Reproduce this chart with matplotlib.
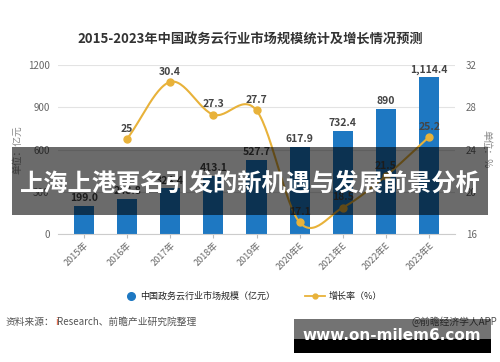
import numpy as np
import matplotlib
matplotlib.use("Agg")
import matplotlib.pyplot as plt
from matplotlib.patches import Rectangle
from matplotlib.lines import Line2D

plt.rcParams['font.family'] = ['Noto Sans CJK SC', 'DejaVu Sans']

years = ["2015年", "2016年", "2017年", "2018年", "2019年", "2020年E", "2021年E", "2022年E", "2023年E"]
market = [199.0, 248.8, 324.4, 413.1, 527.7, 617.9, 732.4, 890.0, 1114.4]
market_labels = ["199.0", "248.8", "324.4", "413.1", "527.7", "617.9", "732.4", "890", "1,114.4"]
growth = [None, 25.0, 30.4, 27.3, 27.7, 17.1, 18.5, 21.5, 25.2]
growth_labels = ["", "25", "30.4", "27.3", "27.7", "17.1", "18.5", "21.5", "25.2"]
left_ticks = [0, 300, 600, 900, 1200]
right_ticks = [16, 20, 24, 28, 32]

W, H = 500, 362
fig = plt.figure(figsize=(W / 100, H / 100), dpi=100)

def fx(px):
    return px / W

def fy(py):
    return 1 - py / H

BLUE = '#1e78c2'
GOLD = '#e8b23a'
GRAY = '#666666'

ax = fig.add_axes([fx(58), fy(234), fx(455) - fx(58), fy(65) - fy(234)])
x = np.arange(len(years))
ax.bar(x, market, width=0.47, color=BLUE, zorder=2)
ax.set_xlim(-0.6, len(years) - 0.4)
ax.set_ylim(0, 1200)
ax.set_yticks(left_ticks)
ax.set_yticklabels([str(t) for t in left_ticks], fontsize=7, color=GRAY)
ax.set_xticks(x)
ax.set_xticklabels(years, rotation=45, ha='right', rotation_mode='anchor', fontsize=6.5, color=GRAY)
ax.tick_params(axis='x', length=3, color='#bbbbbb', pad=2)
ax.tick_params(axis='y', length=0, pad=6)
for s in ['top', 'right', 'left']:
    ax.spines[s].set_visible(False)
ax.spines['bottom'].set_color('#cccccc')
ax.grid(axis='y', color='#e3e3e3', linewidth=0.8, zorder=0)
ax.set_axisbelow(True)
for xi, v, lab in zip(x, market, market_labels):
    ax.text(xi, v + 18, lab, ha='center', va='bottom', fontsize=7.5, fontweight='bold', color='#444444', zorder=5)
ax.set_ylabel("单位：亿元", fontsize=7, color='#888888', labelpad=4)

ax2 = ax.twinx()
ax2.set_ylim(16, 32)
ax2.set_yticks(right_ticks)
ax2.set_yticklabels([str(t) for t in right_ticks], fontsize=7, color=GRAY)
ax2.tick_params(axis='y', length=0, pad=8)
for s in ['top', 'right', 'left', 'bottom']:
    ax2.spines[s].set_visible(False)
ax2.set_ylabel("单位：%", fontsize=7, color='#888888', rotation=270, labelpad=10)

gx = np.array([xi for xi, g in zip(x, growth) if g is not None], dtype=float)
gy = np.array([g for g in growth if g is not None], dtype=float)
# smooth drawing (Catmull-Rom) through the data points
n = len(gx)
tang = np.zeros(n)
for i in range(n):
    if i == 0:
        tang[i] = gy[1] - gy[0]
    elif i == n - 1:
        tang[i] = gy[-1] - gy[-2]
    else:
        tang[i] = (gy[i + 1] - gy[i - 1]) / 2
sx, sy = [], []
for i in range(n - 1):
    t = np.linspace(0, 1, 30)
    h00 = 2 * t**3 - 3 * t**2 + 1
    h10 = t**3 - 2 * t**2 + t
    h01 = -2 * t**3 + 3 * t**2
    h11 = t**3 - t**2
    sx.extend(gx[i] + t * (gx[i + 1] - gx[i]))
    sy.extend(h00 * gy[i] + h10 * tang[i] + h01 * gy[i + 1] + h11 * tang[i + 1])
ax2.plot(sx, sy, color=GOLD, linewidth=1.5, zorder=3)
ax2.plot(gx, gy, 'o', color=GOLD, markersize=5, zorder=4)
for xi, g, lab in zip(x, growth, growth_labels):
    if g is None:
        continue
    ax2.text(xi, g + 0.5, lab, ha='center', va='bottom', fontsize=7.5, fontweight='bold', color='#444444', zorder=5)

# title
fig.text(0.5, fy(40), "2015-2023年中国政务云行业市场规模统计及增长情况预测", ha='center', va='center',
         fontsize=9.5, fontweight='bold', color='#333333')

# legend
fig.add_artist(Line2D([fx(131)], [fy(296)], marker='o', color=BLUE, markersize=5.5, linestyle='None', transform=fig.transFigure))
fig.text(fx(140), fy(296), "中国政务云行业市场规模（亿元）", ha='left', va='center', fontsize=6.5, color='#222222')
fig.add_artist(Line2D([fx(305), fx(325)], [fy(296), fy(296)], color=GOLD, linewidth=1.3, transform=fig.transFigure))
fig.add_artist(Line2D([fx(315)], [fy(296)], marker='o', color=GOLD, markersize=3.5, linestyle='None', transform=fig.transFigure))
fig.text(fx(329), fy(296), "增长率（%）", ha='left', va='center', fontsize=6.5, color='#222222')

# source
renderer = fig.canvas.get_renderer()
t1 = fig.text(fx(6), fy(322), "资料来源：", ha='left', va='center', fontsize=7, color='#555555')
bb = t1.get_window_extent(renderer)
t2 = fig.text(bb.x1 / W, fy(322), "i", ha='left', va='center', fontsize=7, color='#e0502a')
bb2 = t2.get_window_extent(renderer)
fig.text(bb2.x1 / W, fy(322), "Research、前瞻产业研究院整理", ha='left', va='center', fontsize=7, color='#555555')
fig.text(fx(497), fy(322), "@前瞻经济学人APP", ha='right', va='center', fontsize=7, color='#555555')

# overlay banners
fig.add_artist(Rectangle((fx(12), fy(215)), fx(488) - fx(12), fy(147) - fy(215), transform=fig.transFigure,
                         facecolor='black', alpha=0.58, edgecolor='none', zorder=10))
fig.text(fx(250), fy(184), "上海上港更名引发的新机遇与发展前景分析", ha='center', va='center',
         fontsize=17.5, fontweight='bold', color='white', zorder=11)
fig.add_artist(Rectangle((fx(294), fy(339)), fx(491) - fx(294), fy(319) - fy(339), transform=fig.transFigure,
                         facecolor='black', alpha=0.55, edgecolor='none', zorder=10))
fig.add_artist(Rectangle((fx(294), fy(353)), fx(491) - fx(294), fy(339) - fy(353), transform=fig.transFigure,
                         facecolor='black', alpha=1.0, edgecolor='none', zorder=10))
fig.text(fx(392), fy(336), "www.on-milem6.com", ha='center', va='center', fontsize=11,
         fontweight='bold', color='white', family=['DejaVu Sans'], zorder=11)

fig.savefig("out.png", dpi=100)
